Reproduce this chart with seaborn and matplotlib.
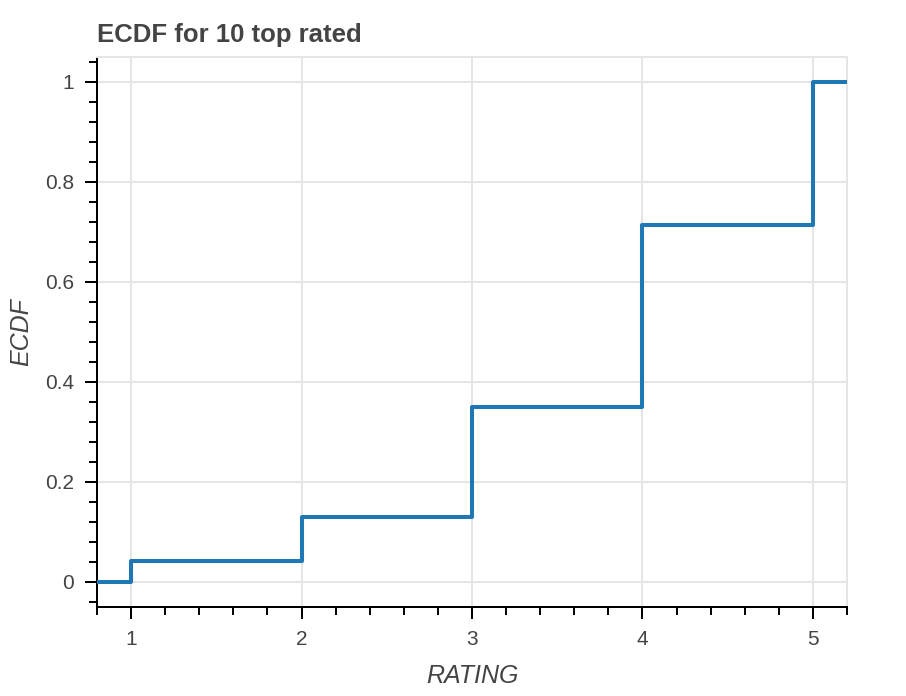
import numpy as np
import matplotlib
matplotlib.use("Agg")
import matplotlib.pyplot as plt
from matplotlib.ticker import MultipleLocator, FormatStrFormatter
import seaborn as sns

# ECDF: ratings and the cumulative share at each rating
ratings = [1, 2, 3, 4, 5]
ecdf_levels = [0.042, 0.129, 0.349, 0.714, 1.0]
title = "ECDF for 10 top rated"
x_label = "RATING"
y_label = "ECDF"

sns.set_theme(style="white")
plt.rcParams['font.family'] = ['Liberation Sans', 'DejaVu Sans']

# weights so that seaborn's weighted ecdf lands on the levels above
weights = np.diff(np.r_[0, ecdf_levels])

fig = plt.figure(figsize=(9.06, 6.96), dpi=100)
ax = fig.add_axes([97 / 906, (696 - 606.5) / 696, 750 / 906, 549.5 / 696])

blue = '#1f77b4'
lw = 2.9
sns.ecdfplot(x=ratings, weights=weights, ax=ax, color=blue, linewidth=lw)

xmin, xmax = 0.8, 5.2
ax.set_xlim(xmin, xmax)
ax.set_ylim(-0.05, 1.05)
# bokeh step runs out to both edges of the frame
ax.hlines(0, xmin, ratings[0], color=blue, linewidth=lw, zorder=3)
ax.hlines(ecdf_levels[-1], ratings[-1], xmax, color=blue, linewidth=lw, zorder=3)

ax.xaxis.set_major_locator(MultipleLocator(1))
ax.xaxis.set_minor_locator(MultipleLocator(0.2))
ax.yaxis.set_major_locator(MultipleLocator(0.2))
ax.yaxis.set_minor_locator(MultipleLocator(0.04))
ax.yaxis.set_major_formatter(FormatStrFormatter('%g'))

ax.grid(True, which='major', color='#e5e5e5', linewidth=1.44)
ax.set_axisbelow(True)

for side in ['left', 'bottom']:
    ax.spines[side].set_color('black')
    ax.spines[side].set_linewidth(1.44)
for side in ['top', 'right']:
    ax.spines[side].set_color('#e5e5e5')
    ax.spines[side].set_linewidth(1.44)

ax.tick_params(which='major', direction='out', length=8.6, width=1.44,
               color='black', labelsize=15, labelcolor='#444444', pad=8)
ax.tick_params(which='minor', direction='out', length=5.8, width=1.44,
               color='black')
ax.tick_params(axis='x', which='both', bottom=True)
ax.tick_params(axis='y', which='both', left=True)

ax.set_xlabel(x_label, fontsize=18, fontstyle='italic', color='#444444', labelpad=11)
ax.set_ylabel(y_label, fontsize=18, fontstyle='italic', color='#444444', labelpad=8)

fig.text(97 / 906, (696 - 41.7) / 696, title, fontsize=18.5, fontweight='bold',
         color='#444444', ha='left', va='baseline')

fig.savefig('out.png', dpi=100)
